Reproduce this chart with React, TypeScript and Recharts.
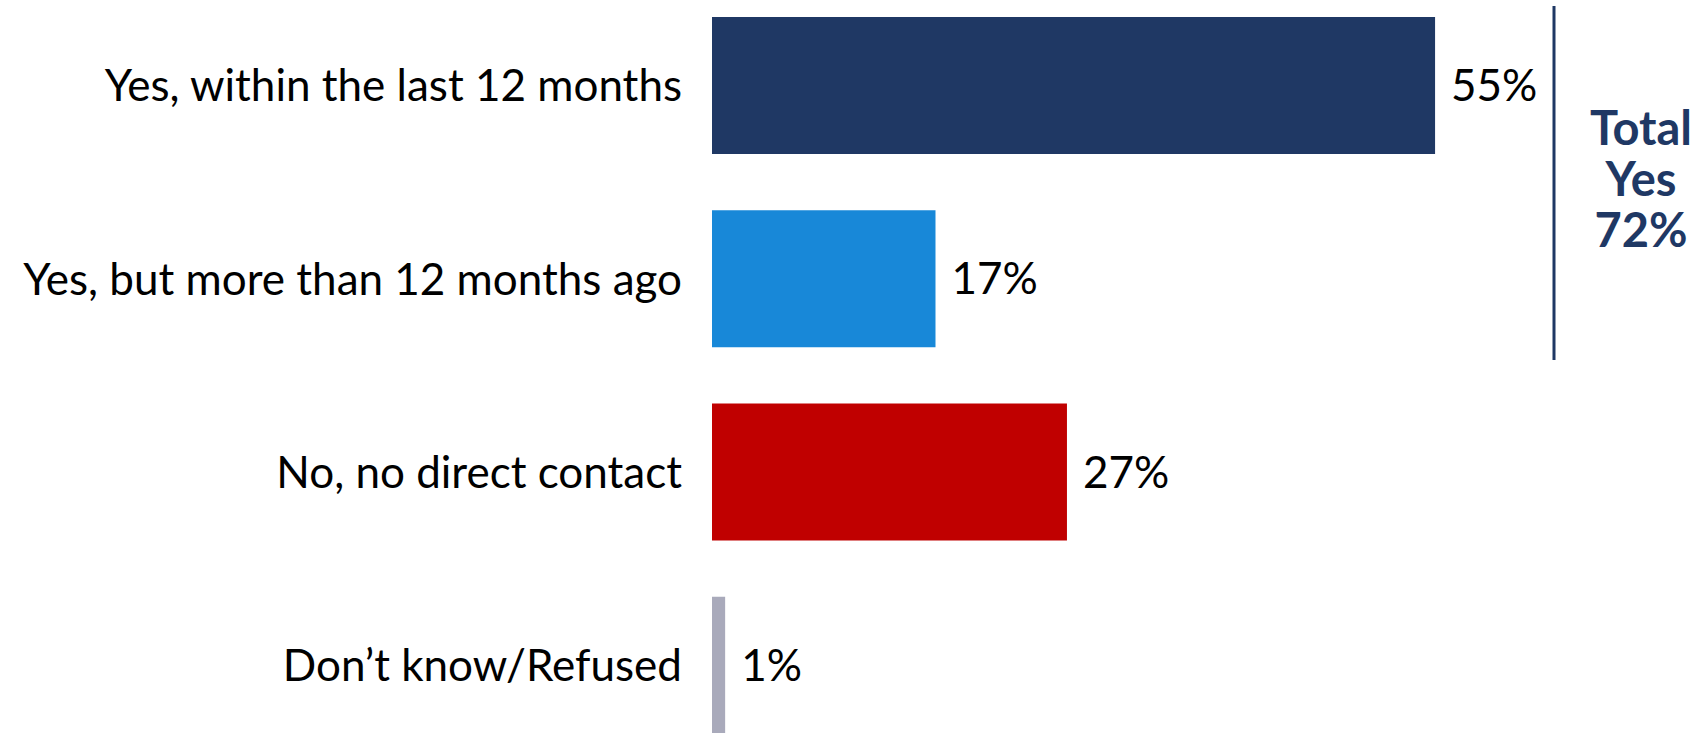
import React from 'react';
import { BarChart, Bar, XAxis, YAxis, Cell, LabelList } from 'recharts';

const categories = [
  'Yes, within the last 12 months',
  'Yes, but more than 12 months ago',
  'No, no direct contact',
  'Don\u2019t know/Refused',
];
const values = [55, 17, 27, 1];
const barColors = ['#1F3864', '#1888D8', '#C00000', '#A9AABB'];
const totalLines = ['Total', 'Yes', '72%'];

const data = categories.map((label, i) => ({ label, value: values[i], color: barColors[i] }));

const FONT = 'Lato, "Open Sans", sans-serif';
const NAVY = '#1F3864';

function CategoryTick({ x, y, payload }: any) {
  return (
    <text
      x={x}
      y={y}
      dy="0.36em"
      textAnchor="end"
      fontFamily={FONT}
      fontSize={44}
      fill="#000"
    >
      {payload.value}
    </text>
  );
}

export default function App() {
  return (
    <div
      style={{
        position: 'fixed',
        left: 0,
        top: 0,
        width: 1706,
        height: 733,
        overflow: 'hidden',
        background: '#fff',
      }}
    >
      <div style={{ position: 'absolute', left: 0, top: -11 }}>
        <BarChart
          layout="vertical"
          width={1706}
          height={773}
          data={data}
          margin={{ top: 0, right: 8, bottom: 0, left: 0 }}
        >
          <XAxis type="number" domain={[0, 75]} hide />
          <YAxis
            type="category"
            dataKey="label"
            width={712}
            axisLine={false}
            tickLine={false}
            tickSize={0}
            tickMargin={30}
            tick={<CategoryTick />}
            interval={0}
          />
          <Bar dataKey="value" barSize={137} isAnimationActive={false}>
            {data.map((d) => (
              <Cell key={d.label} fill={d.color} />
            ))}
            <LabelList
              dataKey="value"
              position="right"
              offset={16}
              formatter={(v: any) => `${v}%`}
              style={{ fontFamily: FONT, fontSize: 44, fill: '#000' }}
            />
          </Bar>
        </BarChart>
      </div>

      {/* Total Yes bracket */}
      <svg
        width={1706}
        height={733}
        style={{ position: 'absolute', left: 0, top: 0, pointerEvents: 'none' }}
      >
        <line x1={1554} y1={6} x2={1554} y2={360} stroke={NAVY} strokeWidth={3} />
        {totalLines.map((t, i) => (
          <text
            key={t}
            x={1641}
            y={145 + i * 51}
            textAnchor="middle"
            fontFamily={FONT}
            fontWeight={700}
            fontSize={47}
            fill={NAVY}
          >
            {t}
          </text>
        ))}
      </svg>
    </div>
  );
}
